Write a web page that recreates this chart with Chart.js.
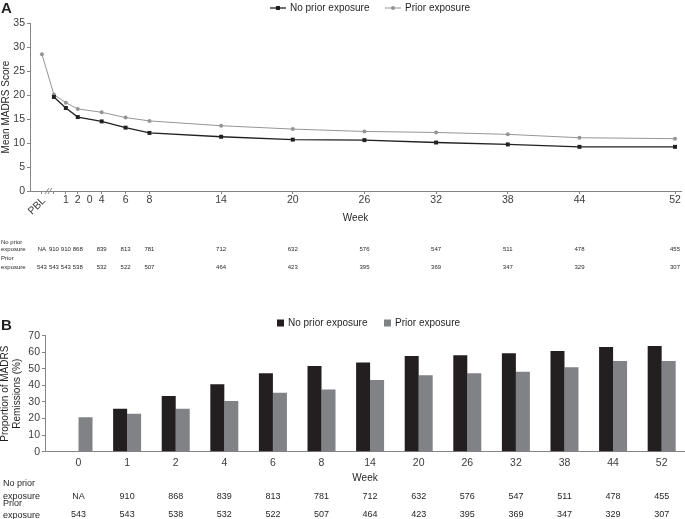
<!DOCTYPE html>
<html>
<head>
<meta charset="utf-8">
<script src="https://cdn.jsdelivr.net/npm/chart.js@4.4.0/dist/chart.umd.min.js"></script>
<style>
  body { margin: 0; background: #fff; }
  canvas { position: absolute; left: 0; }
  #chartA { top: 0; }
  #chartB { top: 285px; }
</style>
</head>
<body>
<canvas id="chartA" width="685" height="285"></canvas>
<canvas id="chartB" width="685" height="234"></canvas>
<script>
// Panel A: mean MADRS score per week (-1 = PBL)
const weeksA = [-1, 0, 1, 2, 4, 6, 8, 14, 20, 26, 32, 38, 44, 52];
const noPriorMean = [null, 19.6, 17.3, 15.4, 14.5, 13.2, 12.1, 11.3, 10.7, 10.6, 10.1, 9.7, 9.2, 9.2];
const priorMean = [28.5, 20.1, 18.4, 17.1, 16.4, 15.3, 14.6, 13.6, 12.9, 12.4, 12.2, 11.8, 11.1, 10.9];
const noPriorNA = ['NA', 910, 910, 868, 839, 813, 781, 712, 632, 576, 547, 511, 478, 455];
const priorNA = [543, 543, 543, 538, 532, 522, 507, 464, 423, 395, 369, 347, 329, 307];
// tick positions / labels on the week axis (the stray "0" label sits at week 3 in the original)
const tickWeeksA = [-1, 0, 1, 2, 3, 4, 6, 8, 14, 20, 26, 32, 38, 44, 52];
const tickLabelsA = ['', '', '1', '2', '0', '4', '6', '8', '14', '20', '26', '32', '38', '44', '52'];

// Panel B: proportion of MADRS remissions (%)
const weeksB = ['0', '1', '2', '4', '6', '8', '14', '20', '26', '32', '38', '44', '52'];
const noPriorRemission = [null, 25.9, 33.6, 40.7, 47.3, 51.7, 53.9, 57.8, 58.2, 59.4, 60.8, 63.2, 63.8];
const priorRemission = [20.8, 22.9, 25.9, 30.6, 35.6, 37.6, 43.3, 46.1, 47.3, 48.3, 50.9, 54.7, 54.7];
const noPriorNB = ['NA', 910, 868, 839, 813, 781, 712, 632, 576, 547, 511, 478, 455];
const priorNB = [543, 543, 538, 532, 522, 507, 464, 423, 395, 369, 347, 329, 307];

const seriesLabels = ['No prior exposure', 'Prior exposure'];

const FONT = '"Liberation Sans", Arial, Helvetica, sans-serif';
const textColor = '#231f20';
const tickColor = '#3c3c3c';
const axisColor = '#858585';
const black = '#231f20';
const grey = '#939598';
const barGrey = '#808285';

Chart.defaults.font.family = FONT;
Chart.defaults.color = tickColor;

// extra bits for panel A: letter, PBL label, axis break, legend, n table
const panelAExtras = {
  id: 'panelAExtras',
  afterDraw(chart) {
    const ctx = chart.ctx;
    const x = chart.scales.x, y = chart.scales.y;
    ctx.save();
    ctx.fillStyle = textColor;
    ctx.font = 'bold 15px ' + FONT;
    ctx.textAlign = 'left';
    ctx.textBaseline = 'alphabetic';
    ctx.fillText('A', 1, 13);

    // rotated PBL tick label
    ctx.save();
    ctx.fillStyle = tickColor;
    ctx.font = '10.5px ' + FONT;
    ctx.translate(x.getPixelForValue(-1) + 2, y.bottom + 8);
    ctx.rotate(-Math.PI / 4);
    ctx.textAlign = 'right';
    ctx.textBaseline = 'middle';
    ctx.fillText('PBL', 0, 0);
    ctx.restore();

    // axis break //
    const bx = x.getPixelForValue(-0.45), by = y.bottom;
    ctx.strokeStyle = axisColor;
    ctx.lineWidth = 1;
    ctx.beginPath();
    [-1.5, 1.5].forEach(d => {
      ctx.moveTo(bx + d - 2, by + 3);
      ctx.lineTo(bx + d + 2, by - 3);
    });
    ctx.stroke();

    // legend
    const legendX = [270, 385];
    ctx.font = '10px ' + FONT;
    ctx.textBaseline = 'middle';
    chart.data.datasets.forEach((ds, i) => {
      const lx = legendX[i], ly = 8;
      ctx.strokeStyle = ds.borderColor;
      ctx.lineWidth = ds.borderWidth;
      ctx.beginPath();
      ctx.moveTo(lx, ly);
      ctx.lineTo(lx + 16, ly);
      ctx.stroke();
      ctx.fillStyle = ds.borderColor;
      Chart.helpers.drawPoint(ctx, { pointStyle: ds.pointStyle, radius: ds.pointRadius, borderWidth: 0 }, lx + 8, ly);
      ctx.fillStyle = textColor;
      ctx.fillText(ds.label, lx + 20, ly);
    });

    // n table
    ctx.fillStyle = textColor;
    ctx.font = '6px ' + FONT;
    ctx.textAlign = 'left';
    ctx.fillText('No prior', 1, 242);
    ctx.fillText('exposure', 1, 249);
    ctx.fillText('Prior', 1, 258);
    ctx.fillText('exposure', 1, 267);
    ctx.textAlign = 'center';
    weeksA.forEach((w, i) => {
      const px = x.getPixelForValue(w);
      ctx.fillText(String(noPriorNA[i]), px, 249);
      ctx.fillText(String(priorNA[i]), px, 267);
    });
    ctx.restore();
  }
};

const panelBExtras = {
  id: 'panelBExtras',
  afterDraw(chart) {
    const ctx = chart.ctx;
    const x = chart.scales.x;
    ctx.save();
    ctx.fillStyle = textColor;
    ctx.font = 'bold 15px ' + FONT;
    ctx.textAlign = 'left';
    ctx.textBaseline = 'alphabetic';
    ctx.fillText('B', 1, 45);

    // legend
    const legendX = [277, 384];
    ctx.font = '10px ' + FONT;
    ctx.textBaseline = 'middle';
    chart.data.datasets.forEach((ds, i) => {
      const lx = legendX[i], ly = 38;
      ctx.fillStyle = ds.backgroundColor;
      ctx.fillRect(lx, ly - 3.5, 7, 7);
      ctx.fillStyle = textColor;
      ctx.fillText(ds.label, lx + 11, ly);
    });

    // n table
    ctx.fillStyle = textColor;
    ctx.font = '9px ' + FONT;
    ctx.textAlign = 'left';
    ctx.fillText('No prior', 3, 199);
    ctx.fillText('exposure', 3, 212);
    ctx.fillText('Prior', 3, 219);
    ctx.fillText('exposure', 3, 231);
    ctx.textAlign = 'center';
    weeksB.forEach((w, i) => {
      const px = x.getPixelForValue(i);
      ctx.fillText(String(noPriorNB[i]), px, 212);
      ctx.fillText(String(priorNB[i]), px, 230);
    });
    ctx.restore();
  }
};

new Chart(document.getElementById('chartA'), {
  type: 'line',
  data: {
    datasets: [
      {
        label: seriesLabels[0],
        data: weeksA.map((w, i) => ({ x: w, y: noPriorMean[i] })),
        borderColor: black,
        backgroundColor: black,
        borderWidth: 1.3,
        pointStyle: 'rect',
        pointRadius: 2.8,
        pointBorderWidth: 0,
        tension: 0
      },
      {
        label: seriesLabels[1],
        data: weeksA.map((w, i) => ({ x: w, y: priorMean[i] })),
        borderColor: grey,
        backgroundColor: grey,
        borderWidth: 1,
        pointStyle: 'circle',
        pointRadius: 2,
        pointBorderWidth: 0,
        tension: 0
      }
    ]
  },
  options: {
    responsive: false,
    animation: false,
    devicePixelRatio: 1,
    layout: { padding: { top: 23, left: 0, right: 0, bottom: 0 } },
    plugins: { legend: { display: false }, tooltip: { enabled: false } },
    scales: {
      x: {
        type: 'linear',
        min: -2,
        max: 52.5,
        afterBuildTicks: s => { s.ticks = tickWeeksA.map(v => ({ value: v })); },
        afterFit: s => { s.height = 94; },
        ticks: {
          autoSkip: false,
          maxRotation: 0,
          padding: 0,
          font: { size: 10.5 },
          callback: (v, i) => tickLabelsA[i]
        },
        grid: {
          drawOnChartArea: false,
          tickLength: 3,
          color: c => (c.tick && c.tick.value === 3 ? 'rgba(0,0,0,0)' : axisColor)
        },
        border: { color: axisColor },
        title: { display: true, text: 'Week', color: textColor, font: { size: 10 }, padding: { top: 0, bottom: 61 } }
      },
      y: {
        min: 0,
        max: 35,
        afterFit: s => { s.width = 30; },
        ticks: { stepSize: 5, padding: 2, font: { size: 10.5 } },
        grid: { drawOnChartArea: false, tickLength: 3, color: axisColor },
        border: { color: axisColor },
        title: { display: true, text: 'Mean MADRS Score', color: textColor, font: { size: 10 }, padding: { top: 0, bottom: 0 } }
      }
    }
  },
  plugins: [panelAExtras]
});

new Chart(document.getElementById('chartB'), {
  type: 'bar',
  data: {
    datasets: [
      {
        label: seriesLabels[0],
        data: weeksB.map((w, i) => ({ x: i, y: noPriorRemission[i] })),
        backgroundColor: black,
        borderWidth: 0
      },
      {
        label: seriesLabels[1],
        data: weeksB.map((w, i) => ({ x: i, y: priorRemission[i] })),
        backgroundColor: barGrey,
        borderWidth: 0
      }
    ]
  },
  options: {
    responsive: false,
    animation: false,
    devicePixelRatio: 1,
    layout: { padding: { top: 50.7, left: 0, right: 0, bottom: 0 } },
    plugins: { legend: { display: false }, tooltip: { enabled: false } },
    datasets: { bar: { categoryPercentage: 0.576, barPercentage: 1 } },
    scales: {
      x: {
        type: 'linear',
        offset: false,
        min: -0.69,
        max: 12.48,
        afterBuildTicks: s => { s.ticks = weeksB.map((w, i) => ({ value: i })); },
        afterFit: s => { s.height = 67.3; },
        ticks: {
          autoSkip: false,
          maxRotation: 0,
          padding: 5,
          font: { size: 10.5 },
          callback: v => weeksB[v]
        },
        grid: { display: false, drawTicks: false, tickLength: 0 },
        border: { display: true, color: axisColor },
        title: { display: true, text: 'Week', color: textColor, font: { size: 10 }, padding: { top: 0, bottom: 35 } }
      },
      y: {
        min: 0,
        max: 70,
        afterFit: s => { s.width = 45; },
        ticks: { stepSize: 10, padding: 2, font: { size: 10.5 } },
        grid: { drawOnChartArea: false, tickLength: 3, color: axisColor },
        border: { color: axisColor },
        title: {
          display: true,
          text: ['Proportion of MADRS', 'Remissions (%)'],
          color: textColor,
          font: { size: 10 },
          padding: { top: -1, bottom: 0 }
        }
      }
    }
  },
  plugins: [panelBExtras]
});
</script>
</body>
</html>
